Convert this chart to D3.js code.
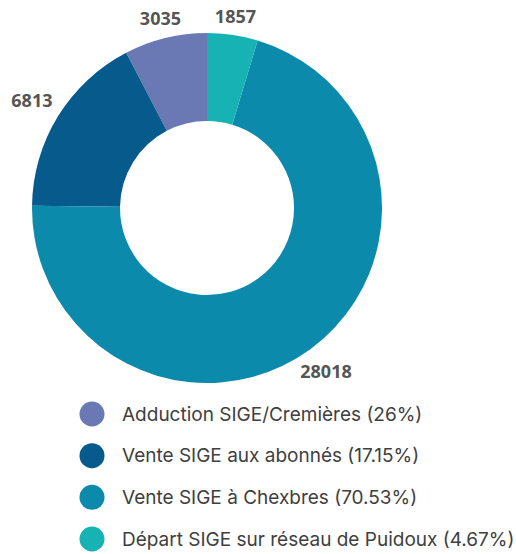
<!DOCTYPE html>
<html>
<head>
<meta charset="utf-8">
<script src="https://cdn.jsdelivr.net/npm/d3@7"></script>
<style>
  html, body { margin: 0; padding: 0; background: #ffffff; }
  svg { display: block; }
</style>
</head>
<body>
<svg id="chart" width="516" height="554"></svg>
<script>
// Data (legend order)
const categories = [
  "Adduction SIGE/Cremières (26%)",
  "Vente SIGE aux abonnés (17.15%)",
  "Vente SIGE à Chexbres (70.53%)",
  "Départ SIGE sur réseau de Puidoux (4.67%)"
];
const values = [3035, 6813, 28018, 1857];
const colors = ["#6a79b3", "#065a8c", "#0b8aab", "#17b2b3"];

const svg = d3.select("#chart");
const cx = 207, cy = 208;
const outerR = 175, innerR = 87;

const pie = d3.pie().sort(null).value(d => d.v)
  .startAngle(0).endAngle(-2 * Math.PI);
const data = values.map((v, i) => ({ v, i }));
const arcs = pie(data);

const arc = d3.arc().innerRadius(innerR).outerRadius(outerR);
function labelPos(d) {
  const a = (d.startAngle + d.endAngle) / 2;
  const r = 192 + 16 * Math.abs(Math.sin(a));
  return [r * Math.sin(a), -r * Math.cos(a)];
}

const g = svg.append("g").attr("transform", `translate(${cx},${cy})`);
g.selectAll("path").data(arcs).join("path")
  .attr("d", arc)
  .attr("fill", d => colors[d.data.i]);

g.selectAll("text.val").data(arcs).join("text")
  .attr("class", "val")
  .attr("transform", d => `translate(${labelPos(d)})`)
  .attr("text-anchor", "middle")
  .attr("dominant-baseline", "central")
  .attr("font-family", "'Open Sans', sans-serif")
  .attr("font-weight", "bold")
  .attr("font-size", 18)
  .attr("fill", "#555555")
  .text(d => d.data.v);

// Legend
const legendY = d3.scaleLinear().domain([0, categories.length - 1]).range([414, 539]);
const lg = svg.append("g");
const items = lg.selectAll("g").data(categories).join("g")
  .attr("transform", (d, i) => `translate(92,${legendY(i)})`);
items.append("circle").attr("r", 12.5).attr("fill", (d, i) => colors[i]);
items.append("text")
  .attr("x", 30)
  .attr("dominant-baseline", "central")
  .attr("font-family", "Inter, sans-serif")
  .attr("font-size", 19)
  .attr("fill", "#404040")
  .text(d => d);
</script>
</body>
</html>
